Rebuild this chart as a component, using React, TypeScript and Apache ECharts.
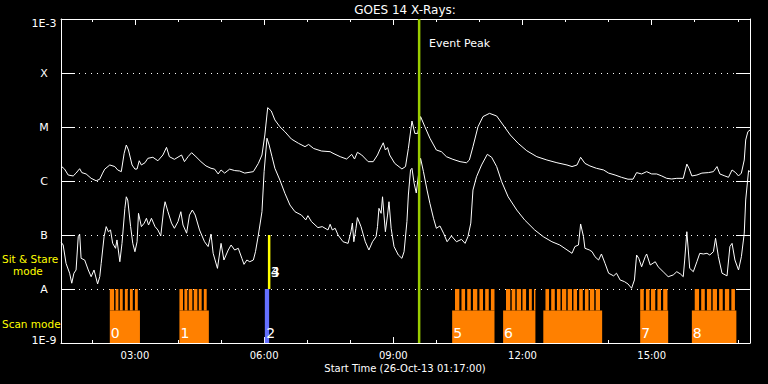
import React, { useEffect, useRef } from "react";
import * as echarts from "echarts";

// ---------- data ----------
const axisStart = "01:17";
const axisEnd = "17:17";
const majorTickTimes = ["03:00", "06:00", "09:00", "12:00", "15:00"];
const minorTickTimes = ["02:00", "03:00", "04:00", "05:00", "06:00", "07:00", "08:00", "09:00", "10:00", "11:00", "12:00", "13:00", "14:00", "15:00", "16:00", "17:00"];
const yTickLabels = ["1E-9", "A", "B", "C", "M", "X", "1E-3"];
const fluxFloor = 1e-9;
const fluxCeil = 1e-3;

const upperTimes = [
  "01:17", "01:22", "01:27", "01:34", "01:38", "01:43", "01:46", "01:52", "01:59", "02:06",
  "02:11", "02:15", "02:18", "02:25", "02:32", "02:36", "02:41", "02:45", "02:48", "02:51",
  "02:56", "03:00", "03:03", "03:06", "03:09", "03:14", "03:18", "03:25", "03:32", "03:39",
  "03:44", "03:48", "03:55", "04:05", "04:09", "04:14", "04:19", "04:25", "04:32", "04:39",
  "04:46", "04:51", "04:56", "05:00", "05:05", "05:12", "05:19", "05:26", "05:33", "05:45",
  "05:52", "05:57", "06:01", "06:05", "06:10", "06:15", "06:22", "06:29", "06:38", "06:48",
  "06:57", "07:02", "07:09", "07:20", "07:32", "07:36", "07:46", "07:55", "08:02", "08:06",
  "08:10", "08:16", "08:25", "08:32", "08:38", "08:41", "08:46", "08:49", "08:52", "08:55",
  "09:02", "09:12", "09:17", "09:21", "09:26", "09:30", "09:34", "09:38", "09:44", "09:51",
  "10:00", "10:07", "10:14", "10:23", "10:33", "10:42", "10:46", "10:51", "10:58", "11:05",
  "11:14", "11:24", "11:33", "11:43", "11:54", "12:06", "12:20", "12:34", "12:48", "13:02",
  "13:09", "13:16", "13:21", "13:27", "13:34", "13:43", "13:53", "14:00", "14:09", "14:18",
  "14:27", "14:34", "14:39", "14:46", "14:53", "15:00", "15:07", "15:14", "15:21", "15:28",
  "15:35", "15:44", "15:49", "15:52", "15:56", "16:03", "16:10", "16:19", "16:26", "16:31",
  "16:35", "16:42", "16:47", "16:52", "16:57", "17:01", "17:05", "17:09", "17:11", "17:14",
  "17:17",
];
const upperFlux = [
  1.9e-6, 1.66e-6, 1.29e-6, 1.24e-6, 1.4e-6, 1.69e-6, 1.43e-6, 1.35e-6, 1.12e-6, 1.01e-6,
  1.08e-6, 1.4e-6, 1.66e-6, 1.98e-6, 1.85e-6, 1.6e-6, 1.49e-6, 3.26e-6, 4.64e-6, 3.75e-6,
  1.98e-6, 1.66e-6, 1.67e-6, 2.37e-6, 1.98e-6, 2.18e-6, 2.63e-6, 2.75e-6, 2.37e-6, 3.03e-6,
  4.2e-6, 2.82e-6, 2.52e-6, 3.03e-6, 2.28e-6, 2.82e-6, 3.34e-6, 2.82e-6, 2.28e-6, 1.9e-6,
  1.72e-6, 1.66e-6, 1.35e-6, 1.6e-6, 1.4e-6, 1.66e-6, 1.56e-6, 1.53e-6, 1.4e-6, 1.49e-6,
  2.12e-6, 3.03e-6, 7.11e-6, 2.28e-5, 1.98e-5, 1.35e-5, 1.01e-5, 8.17e-6, 5.99e-6, 4.98e-6,
  4.32e-6, 4.75e-6, 4.0e-6, 3.59e-6, 3.49e-6, 3.26e-6, 2.82e-6, 2.55e-6, 3.12e-6, 2.55e-6,
  3.4e-6, 3.03e-6, 2.28e-6, 2.28e-6, 3.03e-6, 3.75e-6, 5.1e-6, 3.75e-6, 4.16e-6, 3.03e-6,
  2.12e-6, 1.67e-6, 1.85e-6, 4.0e-6, 1.29e-5, 7.6e-6, 7.6e-6, 1.56e-5, 1.01e-5, 6.2e-6,
  3.75e-6, 3.49e-6, 2.82e-6, 2.52e-6, 2.28e-6, 2.18e-6, 2.45e-6, 4.32e-6, 1.01e-5, 1.56e-5,
  1.79e-5, 1.6e-5, 1.09e-5, 7.11e-6, 4.98e-6, 3.63e-6, 2.82e-6, 2.45e-6, 2.18e-6, 1.98e-6,
  1.85e-6, 1.98e-6, 2.75e-6, 2.12e-6, 1.9e-6, 1.72e-6, 1.6e-6, 1.4e-6, 1.29e-6, 1.17e-6,
  1.08e-6, 1.08e-6, 1.43e-6, 1.35e-6, 1.49e-6, 1.35e-6, 1.35e-6, 1.24e-6, 1.12e-6, 1.09e-6,
  1.12e-6, 1.12e-6, 2.06e-6, 1.72e-6, 1.24e-6, 1.29e-6, 1.4e-6, 1.43e-6, 1.49e-6, 1.85e-6,
  1.35e-6, 1.24e-6, 1.17e-6, 1.6e-6, 1.43e-6, 1.24e-6, 1.4e-6, 2.45e-6, 5.74e-6, 8.17e-6,
  8.8e-6,
];

const lowerTimes = [
  "01:17", "01:20", "01:24", "01:29", "01:32", "01:35", "01:38", "01:41", "01:43", "01:45",
  "01:50", "01:55", "01:59", "02:03", "02:08", "02:11", "02:13", "02:17", "02:20", "02:23",
  "02:26", "02:29", "02:33", "02:35", "02:39", "02:42", "02:46", "02:48", "02:50", "02:54",
  "02:57", "03:00", "03:03", "03:05", "03:09", "03:13", "03:16", "03:19", "03:23", "03:28",
  "03:32", "03:36", "03:40", "03:42", "03:46", "03:51", "03:55", "04:00", "04:04", "04:07",
  "04:12", "04:16", "04:20", "04:24", "04:30", "04:37", "04:42", "04:46", "04:49", "04:55",
  "05:00", "05:04", "05:10", "05:14", "05:19", "05:24", "05:29", "05:32", "05:36", "05:40",
  "05:45", "05:48", "05:52", "05:57", "06:00", "06:04", "06:07", "06:11", "06:15", "06:22",
  "06:29", "06:36", "06:43", "06:52", "06:58", "07:01", "07:06", "07:15", "07:21", "07:29",
  "07:32", "07:35", "07:39", "07:43", "07:50", "07:57", "08:01", "08:03", "08:05", "08:08",
  "08:10", "08:15", "08:21", "08:26", "08:31", "08:36", "08:38", "08:40", "08:43", "08:45",
  "08:47", "08:49", "08:52", "08:54", "08:57", "09:01", "09:07", "09:12", "09:15", "09:19",
  "09:21", "09:24", "09:26", "09:29", "09:32", "09:38", "09:42", "09:47", "09:51", "09:56",
  "10:00", "10:05", "10:10", "10:15", "10:21", "10:28", "10:35", "10:40", "10:44", "10:48",
  "10:51", "10:56", "11:03", "11:11", "11:17", "11:24", "11:31", "11:40", "11:52", "12:03",
  "12:17", "12:29", "12:41", "12:52", "13:02", "13:09", "13:13", "13:18", "13:21", "13:25",
  "13:27", "13:33", "13:37", "13:41", "13:46", "13:50", "13:55", "14:00", "14:07", "14:11",
  "14:16", "14:22", "14:27", "14:32", "14:36", "14:39", "14:42", "14:46", "14:51", "14:53",
  "14:58", "15:05", "15:09", "15:16", "15:23", "15:30", "15:35", "15:40", "15:44", "15:46",
  "15:49", "15:53", "15:58", "16:03", "16:07", "16:12", "16:17", "16:21", "16:26", "16:29",
  "16:33", "16:38", "16:45", "16:49", "16:52", "16:56", "17:01", "17:05", "17:09", "17:11",
  "17:15", "17:17",
];
const lowerFlux = [
  7.4e-8, 6.53e-8, 2.99e-8, 1.96e-8, 1.28e-8, 1.96e-8, 2.25e-8, 9.3e-8, 1.04e-7, 3.7e-8,
  3.44e-8, 2.25e-8, 1.69e-8, 2.25e-8, 1.24e-8, 1.69e-8, 2.99e-8, 9.3e-8, 1.43e-7, 1.15e-7,
  1.24e-7, 7.0e-8, 5.67e-8, 8.1e-8, 3.2e-8, 7.0e-8, 3.12e-7, 5.1e-7, 4.45e-7, 1.43e-7,
  7.0e-8, 4.9e-8, 7.5e-8, 2.52e-7, 1.43e-7, 1.66e-7, 2.04e-7, 1.53e-7, 2.04e-7, 1.43e-7,
  1.24e-7, 9.6e-8, 2.9e-7, 4.13e-7, 2.7e-7, 1.66e-7, 1.33e-7, 1.77e-7, 2.7e-7, 1.53e-7,
  1.08e-7, 2.34e-7, 2.9e-7, 2.34e-7, 1.24e-7, 7.5e-8, 6.1e-8, 1.04e-7, 4.58e-8, 2.41e-8,
  7.0e-8, 3.44e-8, 5.27e-8, 6.53e-8, 5.27e-8, 5.67e-8, 3.7e-8, 2.86e-8, 3.44e-8, 3.2e-8,
  3.44e-8, 4.9e-8, 1.0e-7, 2.7e-7, 1.49e-6, 6.2e-6, 4.64e-6, 2.82e-6, 1.72e-6, 1.04e-6,
  5.9e-7, 3.59e-7, 2.7e-7, 2.34e-7, 1.9e-7, 2.28e-7, 1.77e-7, 1.37e-7, 1.43e-7, 1.24e-7,
  1.58e-7, 1.24e-7, 1.33e-7, 1.0e-7, 7.5e-8, 7.0e-8, 1.15e-7, 1.66e-7, 7.5e-8, 1.33e-7,
  2.1e-7, 1.43e-7, 7.5e-8, 5.27e-8, 7.5e-8, 9.3e-8, 1.43e-7, 3.12e-7, 2.52e-7, 5.1e-7,
  2.34e-7, 1.15e-7, 2.34e-7, 4.13e-7, 1.33e-7, 6.1e-8, 4.26e-8, 3.7e-8, 4.9e-8, 1.77e-7,
  5.5e-7, 1.6e-6, 1.72e-6, 9.1e-7, 6.0e-7, 2.63e-6, 1.49e-6, 6.8e-7, 3.86e-7, 2.04e-7,
  1.33e-7, 1.47e-7, 1.08e-7, 7.5e-8, 9.6e-8, 7.5e-8, 8.3e-8, 7.0e-8, 9.3e-8, 1.66e-7,
  6.8e-7, 1.2e-6, 1.98e-6, 3.12e-6, 2.75e-6, 1.85e-6, 9.7e-7, 5.1e-7, 2.9e-7, 1.9e-7,
  1.24e-7, 9.3e-8, 7.5e-8, 6.53e-8, 5.3e-8, 4.58e-8, 6.1e-8, 6.53e-8, 1.6e-7, 9.3e-8,
  5.67e-8, 5.3e-8, 4.9e-8, 3.96e-8, 3.44e-8, 4.45e-8, 2.99e-8, 1.96e-8, 1.75e-8, 1.96e-8,
  1.47e-8, 1.37e-8, 1.24e-8, 1.03e-8, 1.47e-8, 4.26e-8, 3.7e-8, 2.58e-8, 3.96e-8, 4.45e-8,
  2.78e-8, 3.2e-8, 2.58e-8, 2.09e-8, 1.69e-8, 1.82e-8, 2.09e-8, 1.9e-8, 1.69e-8, 3.44e-8,
  1.15e-7, 2.41e-8, 2.09e-8, 3.2e-8, 4.58e-8, 4.45e-8, 4.58e-8, 4.26e-8, 4.9e-8, 8.7e-8,
  3.96e-8, 1.96e-8, 1.75e-8, 6.1e-8, 7.0e-8, 3.44e-8, 2.25e-8, 3.96e-8, 1.08e-7, 4.45e-7,
  1.56e-6, 1.49e-6,
];

// Scan-mode blocks (orange)
const scanBlockLabels = ["0", "1", "5", "6", "", "7", "8"];
const scanBlockStart = ["02:25", "04:02", "10:22", "11:33", "12:29", "14:44", "15:56"];
const scanBlockEnd = ["03:07", "04:43", "11:21", "12:18", "13:51", "15:23", "16:58"];
const scanBaseTop = 4e-9;
const scanTopLevel = 1e-8;
const scanStepStart = [
  "02:25", "02:33", "02:39", "02:46", "02:53", "03:00",
  "04:02", "04:09", "04:15", "04:22", "04:29", "04:36",
  "10:26", "10:35", "10:43", "10:51", "11:00", "11:08", "11:16",
  "11:37", "11:45", "11:52", "12:00", "12:09", "12:16",
  "12:32", "12:40", "12:48", "12:55", "13:03", "13:11", "13:19", "13:27", "13:34", "13:42",
  "14:44", "14:52", "14:59", "15:08", "15:16",
  "16:00", "16:09", "16:17", "16:25", "16:34", "16:42", "16:51",
];
const scanStepEnd = [
  "02:31", "02:37", "02:43", "02:50", "02:57", "03:04",
  "04:07", "04:13", "04:20", "04:27", "04:33", "04:40",
  "10:32", "10:40", "10:48", "10:57", "11:05", "11:13", "11:21",
  "11:43", "11:50", "11:58", "12:05", "12:13", "12:18",
  "12:37", "12:45", "12:53", "13:01", "13:09", "13:16", "13:24", "13:32", "13:40", "13:48",
  "14:49", "14:57", "15:05", "15:13", "15:22",
  "16:06", "16:14", "16:23", "16:31", "16:39", "16:48", "16:56",
];

// Blue scan block "2"
const blueBlockLabel = "2";
const blueBlockStart = "06:01";
const blueBlockEnd = "06:07";

// Sit & stare observations "3", "4"
const sitStareLabels = ["3", "4"];
const sitStareTime = "06:07";
const sitStareLow = 1e-8;
const sitStareHigh = 1e-7;

const eventPeakTime = "09:36";

// ---------- helpers ----------
const toMin = (t: string) => {
  const [h, m] = t.split(":").map(Number);
  return h * 60 + m;
};
const fmtHM = (v: number) => {
  const h = Math.floor(v / 60);
  const m = Math.round(v - h * 60);
  return `${String(h).padStart(2, "0")}:${String(m).padStart(2, "0")}`;
};

const FONT = "DejaVu Sans";
const WHITE = "#ffffff";
const ORANGE = "#ff8000";
const BLUE = "#6470ff";
const YELLOW = "#ffff00";
const GREEN = "#99cc00";

export default function App() {
  const ref = useRef<HTMLDivElement>(null);

  useEffect(() => {
    if (!ref.current) return;
    const chart = echarts.init(ref.current, undefined, { renderer: "svg" });

    const xMin = toMin(axisStart);
    const xMax = toMin(axisEnd);
    const major = majorTickTimes.map(toMin);
    const minor = minorTickTimes.map(toMin);

    const xAxisBase = {
      type: "value" as const,
      min: xMin,
      max: xMax,
      splitLine: { show: false },
      axisPointer: { show: false },
    };

    const rectItem = (api: any, x0: number, x1: number, y0: number, y1: number, fill: string) => {
      const a = api.coord([x0, y1]);
      const b = api.coord([x1, y0]);
      return {
        type: "rect",
        shape: { x: a[0], y: a[1], width: b[0] - a[0], height: b[1] - a[1] },
        style: { fill },
      };
    };

    const option: any = {
      animation: false,
      backgroundColor: "#000000",
      grid: { left: 61, right: 18, top: 19, bottom: 41, containLabel: false },
      xAxis: [
        {
          ...xAxisBase,
          position: "bottom",
          axisLine: { show: true, onZero: false, lineStyle: { color: WHITE, width: 1 } },
          axisTick: { show: true, inside: true, length: 6, customValues: major, lineStyle: { color: WHITE } },
          axisLabel: {
            show: true,
            customValues: major,
            formatter: (v: number) => fmtHM(v),
            color: WHITE,
            fontSize: 10,
            fontFamily: FONT,
            margin: 7,
          },
        },
        {
          ...xAxisBase,
          position: "bottom",
          axisLine: { show: false, onZero: false },
          axisTick: { show: true, inside: true, length: 3, customValues: minor, lineStyle: { color: WHITE } },
          axisLabel: { show: false },
        },
        {
          ...xAxisBase,
          position: "top",
          axisLine: { show: true, onZero: false, lineStyle: { color: WHITE, width: 1 } },
          axisTick: { show: true, inside: true, length: 6, customValues: major, lineStyle: { color: WHITE } },
          axisLabel: { show: false },
        },
        {
          ...xAxisBase,
          position: "top",
          axisLine: { show: false, onZero: false },
          axisTick: { show: true, inside: true, length: 3, customValues: minor, lineStyle: { color: WHITE } },
          axisLabel: { show: false },
        },
      ],
      yAxis: [
        {
          type: "log",
          logBase: 10,
          min: fluxFloor,
          max: fluxCeil,
          position: "left",
          axisLine: { show: true, onZero: false, lineStyle: { color: WHITE, width: 1 } },
          axisTick: { show: true, inside: true, length: 14, lineStyle: { color: WHITE } },
          axisLabel: {
            show: true,
            color: WHITE,
            fontSize: 11,
            fontFamily: FONT,
            align: "center",
            margin: 17,
            formatter: (v: number) => {
              const i = Math.round(Math.log10(v)) + 9;
              const t = yTickLabels[i] ?? "";
              if (i === 6) return `{t|${t}}`;
              if (i === 0) return `{b|${t}}`;
              return t;
            },
            rich: {
              t: { color: WHITE, fontSize: 11, fontFamily: FONT, padding: [8, 0, 0, 0] },
              b: { color: WHITE, fontSize: 11, fontFamily: FONT, padding: [0, 0, 6, 0] },
            },
          },
          splitLine: { show: true, lineStyle: { color: WHITE, width: 1, type: [1, 5] } },
          minorTick: { show: false },
          minorSplitLine: { show: false },
        },
        {
          type: "log",
          logBase: 10,
          min: fluxFloor,
          max: fluxCeil,
          position: "right",
          axisLine: { show: true, onZero: false, lineStyle: { color: WHITE, width: 1 } },
          axisTick: { show: true, inside: true, length: 14, lineStyle: { color: WHITE } },
          axisLabel: { show: false },
          splitLine: { show: false },
        },
      ],
      graphic: [
        { type: "text", x: 405, y: 10, style: { text: "GOES 14 X-Rays:", fill: WHITE, font: `12px '${FONT}'`, align: "center", verticalAlign: "middle" } },
        { type: "text", x: 429, y: 43, style: { text: "Event Peak", fill: WHITE, font: `11px '${FONT}'`, align: "left", verticalAlign: "middle" } },
        { type: "text", x: 2, y: 259, style: { text: "Sit & Stare", fill: YELLOW, font: `10.5px '${FONT}'`, align: "left", verticalAlign: "middle" } },
        { type: "text", x: 13, y: 271, style: { text: "mode", fill: YELLOW, font: `10.5px '${FONT}'`, align: "left", verticalAlign: "middle" } },
        { type: "text", x: 2, y: 324, style: { text: "Scan mode", fill: YELLOW, font: `10.5px '${FONT}'`, align: "left", verticalAlign: "middle" } },
        { type: "text", x: 405, y: 368, style: { text: "Start Time (26-Oct-13 01:17:00)", fill: WHITE, font: `10px '${FONT}'`, align: "center", verticalAlign: "middle" } },
      ],
      series: [
        {
          name: "scan blocks",
          type: "custom",
          xAxisIndex: 0,
          yAxisIndex: 0,
          z: 2,
          encode: { x: [0, 1], y: [2, 3] },
          data: scanBlockStart.map((s, i) => [toMin(s), toMin(scanBlockEnd[i]), fluxFloor, scanBaseTop]),
          renderItem: (params: any, api: any) => {
            const x0 = api.value(0);
            const x1 = api.value(1);
            const r = rectItem(api, x0, x1, api.value(2), api.value(3), ORANGE);
            const p = api.coord([x0, api.value(2)]);
            return {
              type: "group",
              children: [
                r,
                {
                  type: "text",
                  x: p[0] + 1,
                  y: p[1] - 10,
                  style: { text: scanBlockLabels[params.dataIndex], fill: WHITE, font: `14px '${FONT}'`, align: "left", verticalAlign: "middle" },
                  z2: 5,
                },
              ],
            };
          },
        },
        {
          name: "scan steps",
          type: "custom",
          xAxisIndex: 0,
          yAxisIndex: 0,
          z: 2,
          encode: { x: [0, 1], y: [2, 3] },
          data: scanStepStart.map((s, i) => [toMin(s), toMin(scanStepEnd[i]), scanBaseTop, scanTopLevel]),
          renderItem: (_params: any, api: any) =>
            rectItem(api, api.value(0), api.value(1), api.value(2), api.value(3), ORANGE),
        },
        {
          name: "blue block",
          type: "custom",
          xAxisIndex: 0,
          yAxisIndex: 0,
          z: 2,
          encode: { x: [0, 1], y: [2, 3] },
          data: [[toMin(blueBlockStart), toMin(blueBlockEnd), fluxFloor, scanTopLevel]],
          renderItem: (_params: any, api: any) => {
            const r = rectItem(api, api.value(0), api.value(1), api.value(2), api.value(3), BLUE);
            const p = api.coord([api.value(0), api.value(2)]);
            return {
              type: "group",
              children: [
                r,
                {
                  type: "text",
                  x: p[0] + 1.5,
                  y: p[1] - 10,
                  style: { text: blueBlockLabel, fill: WHITE, font: `14px '${FONT}'`, align: "left", verticalAlign: "middle" },
                  z2: 5,
                },
              ],
            };
          },
        },
        {
          name: "sit stare",
          type: "custom",
          xAxisIndex: 0,
          yAxisIndex: 0,
          z: 4,
          encode: { x: 0, y: [1, 2] },
          data: [[toMin(sitStareTime), sitStareLow, sitStareHigh]],
          renderItem: (_params: any, api: any) => {
            const a = api.coord([api.value(0), api.value(2)]);
            const b = api.coord([api.value(0), api.value(1)]);
            return {
              type: "group",
              children: [
                { type: "line", shape: { x1: a[0], y1: a[1], x2: b[0], y2: b[1] }, style: { stroke: YELLOW, lineWidth: 2.5 } },
                ...sitStareLabels.map((lab) => ({
                  type: "text",
                  x: a[0] + 1.5,
                  y: b[1] - 17,
                  style: { text: lab, fill: WHITE, font: `14px '${FONT}'`, align: "left", verticalAlign: "middle" },
                })),
              ],
            };
          },
        },
        {
          name: "GOES long",
          type: "line",
          xAxisIndex: 0,
          yAxisIndex: 0,
          z: 3,
          showSymbol: false,
          symbol: "none",
          lineStyle: { color: WHITE, width: 1 },
          data: upperTimes.map((t, i) => [toMin(t), upperFlux[i]]),
        },
        {
          name: "GOES short",
          type: "line",
          xAxisIndex: 0,
          yAxisIndex: 0,
          z: 3,
          showSymbol: false,
          symbol: "none",
          lineStyle: { color: WHITE, width: 1 },
          data: lowerTimes.map((t, i) => [toMin(t), lowerFlux[i]]),
        },
        {
          name: "event peak",
          type: "custom",
          xAxisIndex: 0,
          yAxisIndex: 0,
          z: 6,
          encode: { x: 0, y: [1, 2] },
          data: [[toMin(eventPeakTime), fluxFloor, fluxCeil]],
          renderItem: (_params: any, api: any) => {
            const a = api.coord([api.value(0), api.value(2)]);
            const b = api.coord([api.value(0), api.value(1)]);
            return { type: "line", shape: { x1: a[0], y1: a[1], x2: b[0], y2: b[1] }, style: { stroke: GREEN, lineWidth: 2.5 } };
          },
        },
      ],
    };

    chart.setOption(option);
    return () => chart.dispose();
  }, []);

  return (
    <div
      ref={ref}
      style={{ position: "fixed", left: 0, top: 0, width: 768, height: 384, background: "#000" }}
    />
  );
}
